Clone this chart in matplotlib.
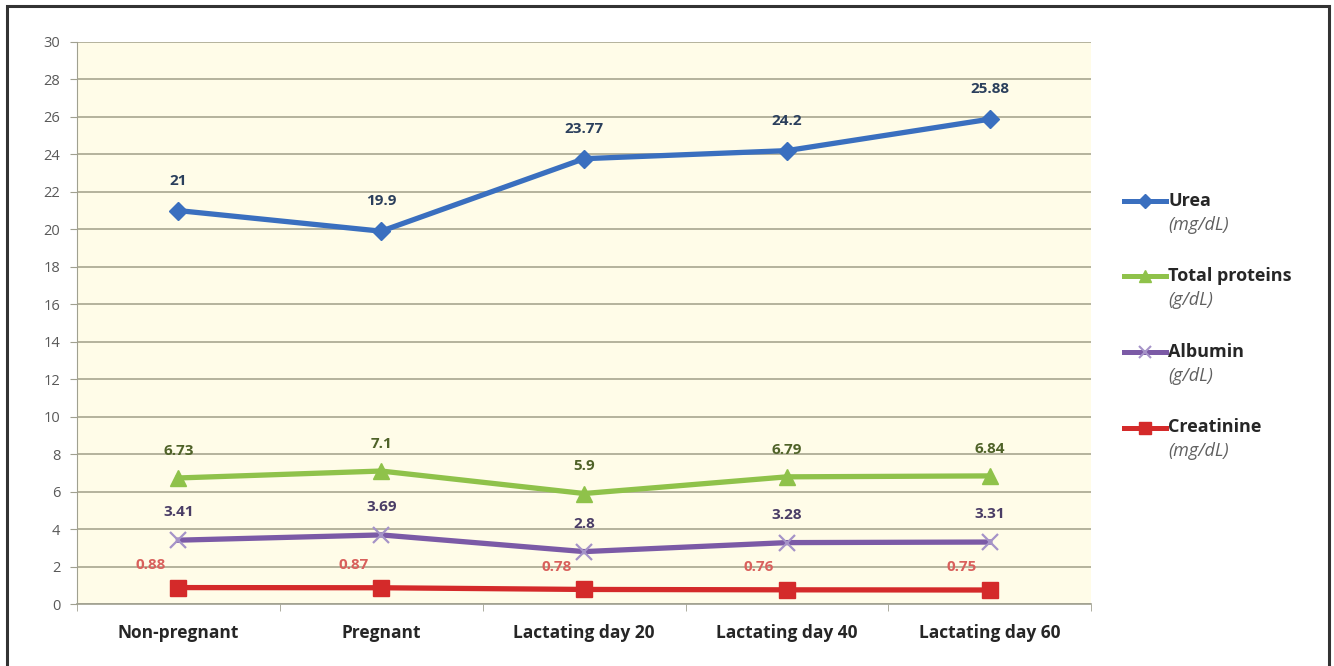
import matplotlib
matplotlib.use("Agg")
import matplotlib.pyplot as plt
from matplotlib.lines import Line2D
from matplotlib.patches import Rectangle

groups = ["Non-pregnant", "Pregnant", "Lactating day 20", "Lactating day 40", "Lactating day 60"]
urea = [21, 19.9, 23.77, 24.2, 25.88]
total_proteins = [6.73, 7.1, 5.9, 6.79, 6.84]
albumin = [3.41, 3.69, 2.8, 3.28, 3.31]
creatinine = [0.88, 0.87, 0.78, 0.76, 0.75]

series = [
    # name, unit, values, line colour, label colour, marker, marker size, label offset (pt)
    ("Urea", "(mg/dL)", urea, "#3a6fbf", "#2b3f5c", "D", 9, (0, 21.5)),
    ("Total proteins", "(g/dL)", total_proteins, "#8fc24a", "#4f6228", "^", 11, (0, 19.5)),
    ("Albumin", "(g/dL)", albumin, "#7b5aa6", "#4a3d66", "x", 12, (0, 20)),
    ("Creatinine", "(mg/dL)", creatinine, "#d42a2a", "#d9605c", "s", 12, (-20, 16.5)),
]

plt.rcParams["font.family"] = ["Open Sans", "DejaVu Sans"]
fig = plt.figure(figsize=(13.34, 6.66), dpi=100)
ax = fig.add_axes([0.0577, 0.093, 0.7603, 0.844])
ax.set_facecolor("#fffce8")

x = list(range(len(groups)))
for name, unit, vals, col, lcol, mk, ms, off in series:
    mec = "#a593c8" if mk == "x" else col
    ax.plot(x, vals, color=col, lw=3.8, marker=mk, ms=ms, mec=mec, mew=1.6 if mk == "x" else 1,
            solid_joinstyle="round", zorder=3)
    for xi, v in zip(x, vals):
        ax.annotate(f"{v:g}", (xi, v), xytext=off, textcoords="offset points",
                    ha="center", va="center", fontsize=11, fontweight="bold", color=lcol, zorder=4)

ax.set_xlim(-0.5, 4.5)
ax.set_ylim(0, 30)
ax.set_yticks(range(0, 31, 2))
ax.set_xticks(x)
ax.set_xticklabels(groups, fontsize=12.5, fontweight="bold", color="#262626")
ax.set_xticks([i + 0.5 for i in range(-1, 5)], minor=True)
ax.tick_params(axis="x", which="major", length=0, pad=14)
ax.tick_params(axis="x", which="minor", length=5, color="#a0a090")
ax.tick_params(axis="y", length=5, color="#a0a090", labelsize=10.5, labelcolor="#595959", pad=7)
ax.grid(axis="y", color="#a8a690", lw=1.2)
ax.set_axisbelow(True)
for s in ["top", "right"]:
    ax.spines[s].set_visible(False)
ax.spines["left"].set_color("#a0a090")
ax.spines["bottom"].set_color("#a0a090")
ax.spines["bottom"].set_linewidth(1.2)

# legend drawn by hand: bold name with italic unit below
W, H = 1334, 666
for i, (name, unit, vals, col, lcol, mk, ms, off) in enumerate(series):
    yy = 1 - (201 + i * 75.5) / H
    fig.add_artist(Line2D([1124 / W, 1166 / W], [yy, yy], color=col, lw=3.6,
                          transform=fig.transFigure))
    fig.add_artist(Line2D([1145 / W], [yy], color=col, marker=mk, ms=ms * 0.75,
                          mec="#a593c8" if mk == "x" else col,
                          mew=1.5 if mk == "x" else 1, transform=fig.transFigure))
    fig.text(1168 / W, yy, name, fontsize=13, fontweight="bold", color="#262626",
             ha="left", va="center")
    fig.text(1168 / W, yy - 24 / H, unit, fontsize=13, fontstyle="italic", color="#606060",
             ha="left", va="center")

# frame around the figure
fig.add_artist(Rectangle((7 / W, -0.05), 1322 / W, 1.05 - 6 / H, fill=False,
                         ec="#333333", lw=2.2, transform=fig.transFigure))

fig.savefig("out.png", dpi=100)
